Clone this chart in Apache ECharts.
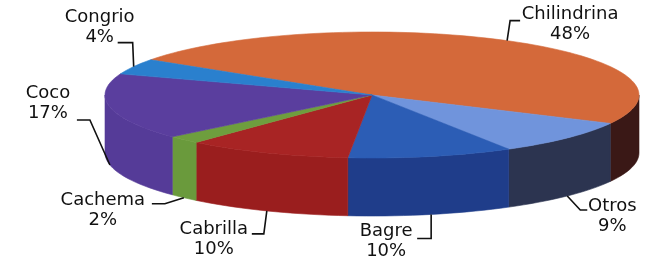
<!DOCTYPE html>
<html lang="es" style="height: 100%">
<head>
  <meta charset="utf-8">
</head>
<body style="height: 100%; margin: 0; background: #fff">
  <div id="container" style="width: 648px; height: 262px"></div>

  <script type="text/javascript" src="https://cdn.jsdelivr.net/npm/echarts@6/dist/echarts.min.js"></script>

  <script type="text/javascript">
    // datos: especies y porcentaje de captura
    var especies = ['Chilindrina', 'Otros', 'Bagre', 'Cabrilla', 'Cachema', 'Coco', 'Congrio'];
    var porcentajes = [48, 9, 10, 10, 2, 17, 4];

    // colores de la cara superior y de la pared lateral
    var topColors = ['#d4693a', '#7094dc', '#2c5db5', '#a82424', '#6e9e3e', '#5a3e9e', '#2a80ce'];
    var sideColors = ['#3a1816', '#2c3450', '#1f3d8a', '#9a1e1e', '#6a9a3c', '#553b98', '#2a78c0'];

    // posicion de etiquetas: [codoDx, codoDy, lineaDx, textoDx, textoDy] relativo al punto del sector
    var labelLayout = [
      [3, -20, 10, 63, -16],
      [13, 14, 7, 45, 20],
      [0, 24, -14, -45, 27],
      [-3, 23, -12, -53, 28],
      [-19, 6, -13, -81, 13],
      [-20, -45, -13, -62, -62],
      [-1, -24, -15, -34, -39]
    ];

    var CX = 372, CY = 95, RX = 267, RY = 63, DEPTH = 58, START = 214;

    var total = porcentajes.reduce(function (a, b) { return a + b; }, 0);
    var slices = [];
    var acc = START;
    porcentajes.forEach(function (v) {
      var a = v / total * 360;
      slices.push([acc, acc + a]);
      acc += a;
    });

    function pt(deg, dy) {
      var r = deg * Math.PI / 180;
      return [CX + RX * Math.cos(r), CY + RY * Math.sin(r) + (dy || 0)];
    }
    function arc(a1, a2, dy) {
      var pts = [];
      var n = Math.max(2, Math.ceil(Math.abs(a2 - a1) / 2));
      for (var k = 0; k <= n; k++) pts.push(pt(a1 + (a2 - a1) * k / n, dy));
      return pts;
    }

    function renderWall(params, api) {
      var i = params.dataIndex;
      var a1 = slices[i][0], a2 = slices[i][1];
      var children = [];
      [0, 360].forEach(function (off) {
        var s = Math.max(a1, off), e = Math.min(a2, off + 180);
        if (e > s) {
          children.push({
            type: 'polygon',
            shape: { points: arc(s, e, 0).concat(arc(e, s, DEPTH)) },
            style: { fill: sideColors[i], stroke: sideColors[i], lineWidth: 0.6 }
          });
        }
      });
      return { type: 'group', children: children };
    }

    function renderTop(params, api) {
      var i = params.dataIndex;
      var a1 = slices[i][0], a2 = slices[i][1];
      var m = (a1 + a2) / 2;
      var front = Math.sin(m * Math.PI / 180) > 0;
      var p = pt(m, front ? DEPTH : 0);
      var L = labelLayout[i];
      var elbow = [p[0] + L[0], p[1] + L[1]];
      var end = [elbow[0] + L[2], elbow[1]];
      return {
        type: 'group',
        children: [
          {
            type: 'polygon',
            shape: { points: [[CX, CY]].concat(arc(a1, a2, 0)) },
            style: { fill: topColors[i], stroke: topColors[i], lineWidth: 0.6 }
          },
          {
            type: 'polyline',
            shape: { points: [p, elbow, end] },
            style: { stroke: '#111', lineWidth: 1.6, fill: null }
          },
          {
            type: 'text',
            x: p[0] + L[3],
            y: p[1] + L[4],
            style: {
              text: especies[i] + '\n' + api.value(0) + '%',
              fontFamily: 'DejaVu Sans',
              fontSize: 18,
              lineHeight: 20,
              fill: '#111',
              align: 'center',
              verticalAlign: 'middle'
            }
          }
        ]
      };
    }

    var dom = document.getElementById('container');
    var myChart = echarts.init(dom, null, { renderer: 'canvas' });

    var option = {
      animation: false,
      series: [
        {
          type: 'custom',
          coordinateSystem: 'none',
          silent: true,
          z: 1,
          data: porcentajes,
          renderItem: renderWall
        },
        {
          type: 'custom',
          coordinateSystem: 'none',
          silent: true,
          z: 2,
          data: porcentajes,
          renderItem: renderTop
        }
      ]
    };

    myChart.setOption(option);
    window.addEventListener('resize', myChart.resize);
  </script>
</body>
</html>
